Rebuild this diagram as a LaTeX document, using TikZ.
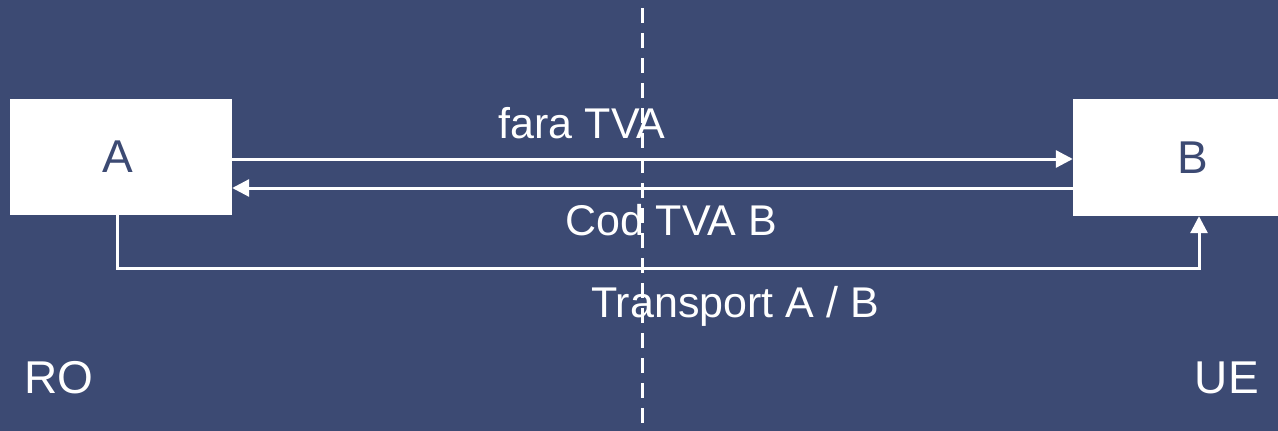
\documentclass[tikz,border=0pt]{standalone}
\usepackage{fontspec}
\setmainfont{Liberation Sans}
\usetikzlibrary{arrows.meta}
\definecolor{bgblue}{RGB}{60,74,115}
\tikzset{
  box/.style={fill=white, inner sep=0pt, text=bgblue, font=\fontsize{46}{54}\selectfont},
  lbl/.style={text=white, inner sep=0pt, anchor=base, font=\fontsize{43}{50}\selectfont},
  side/.style={text=white, inner sep=0pt, font=\fontsize{46}{54}\selectfont},
  conn/.style={draw=white, line width=3pt, -{Triangle[length=17pt,width=17pt]}},
  divider/.style={draw=white, line width=3pt, dash pattern=on 15pt off 10pt}
}
\begin{document}
\begin{tikzpicture}[x=1pt,y=-1pt]
\fill[bgblue] (0,0) rectangle (1278,431);
\useasboundingbox (0,0) rectangle (1278,431);
\node[box, minimum width=222pt, minimum height=116pt] (A) at (121,157) {A\hspace*{6pt}};
\node[box, minimum width=205pt, minimum height=117pt] (B) at (1175.5,157.5) {\hspace*{35pt}B};
\coordinate (dtop) at (642,8);
\coordinate (dbot) at (642,431);
\draw[conn] ([yshift=-2pt]A.east) -- ([yshift=-1.5pt]B.west);
\draw[conn] ([yshift=-30.5pt]B.west) -- ([yshift=-31pt]A.east);
\draw[conn] ([xshift=-4pt]A.south) -- ++(0,53) -| ([xshift=23.5pt]B.south);
\node[lbl] (t1) at (582,138) {fara TVA};
\node[lbl] (t2) at (671,235) {Cod TVA B};
\node[lbl] (t3) at (735,317) {Transport A / B};
\node[side, anchor=base west] (ro) at (24,393) {RO};
\node[side, anchor=base east] (ue) at (1259,393) {UE};
\draw[divider] (dtop) -- (dbot);
\end{tikzpicture}
\end{document}
